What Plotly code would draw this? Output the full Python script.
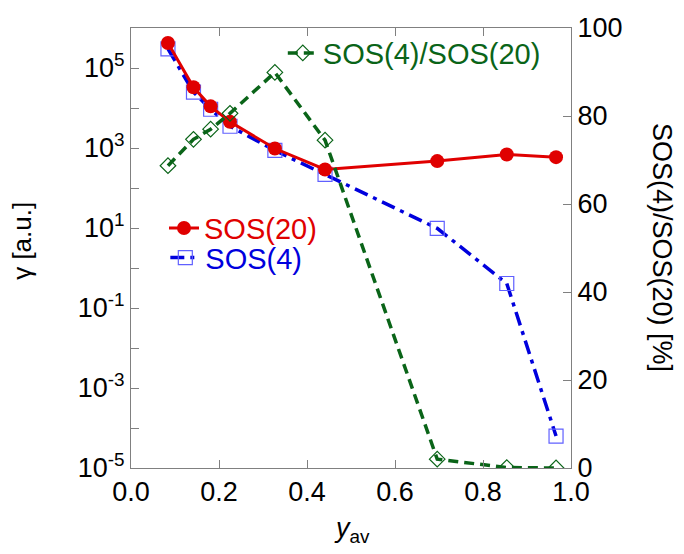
import plotly.graph_objects as go

y_av = [0.084, 0.142, 0.181, 0.225, 0.327, 0.441, 0.696, 0.854, 0.966]
sos20 = [4.2e5, 3.3e4, 1.1e4, 4.5e3, 970, 290, 470, 690, 590]
sos4 = [3.0e5, 2.5e4, 9.3e3, 3.5e3, 870, 220, 9.8, 0.41, 6.3e-5]
ratio = [68.7, 74.7, 77.0, 80.6, 89.9, 74.5, 2.0, 0.1, 0.0]

left_tickvals = [1e-5, 1e-4, 1e-3, 1e-2, 1e-1, 1, 10, 100, 1e3, 1e4, 1e5]
left_ticktext = ["10<sup>-5</sup>", "", "10<sup>-3</sup>", "", "10<sup>-1</sup>", "",
                 "10<sup>1</sup>", "", "10<sup>3</sup>", "", "10<sup>5</sup>"]
right_tickvals = [0, 20, 40, 60, 80, 100]
x_tickvals = [0.0, 0.2, 0.4, 0.6, 0.8, 1.0]
x_ticktext = ["0.0", "0.2", "0.4", "0.6", "0.8", "1.0"]

RED = "#e00000"
BLUE = "#0000dd"
SQ = "#6060ff"
GREEN = "#0a6418"
AX = "#808080"
FONT = "Liberation Sans, Arial, sans-serif"
FS = 27
LFS = 29

fig = go.Figure()
fig.add_trace(go.Scatter(
    x=y_av, y=ratio, name="SOS(4)/SOS(20)", yaxis="y2", legend="legend3",
    mode="lines+markers", showlegend=True,
    line=dict(color=GREEN, width=3.5, dash="10px,6px"),
    marker=dict(symbol="diamond-open", size=12, color=GREEN, line=dict(width=1.2, color=GREEN)),
))
fig.add_trace(go.Scatter(
    x=y_av, y=sos4, name="SOS(4)", legend="legend2",
    mode="lines+markers", showlegend=True,
    line=dict(color=BLUE, width=3.5, dash="14px,6px,4px,6px"),
    marker=dict(symbol="square-open", size=14, color=SQ, line=dict(width=1.2, color=SQ)),
))
fig.add_trace(go.Scatter(
    x=y_av, y=sos20, name="SOS(20)", legend="legend4",
    mode="lines+markers", showlegend=True,
    line=dict(color=RED, width=3),
    marker=dict(symbol="circle", size=14, color=RED),
))

axis_common = dict(showline=True, linecolor=AX, linewidth=1, ticks="inside",
                   tickcolor=AX, ticklen=8, showgrid=False, zeroline=False,
                   tickfont=dict(family=FONT, size=FS, color="black"))

fig.update_layout(
    width=684, height=554,
    margin=dict(l=131, r=113, t=28, b=86),
    paper_bgcolor="white", plot_bgcolor="white",
    showlegend=True,
    font=dict(family=FONT, size=FS, color="black"),
    xaxis=dict(range=[0, 1], tickvals=x_tickvals, ticktext=x_ticktext, mirror="ticks", **axis_common),
    yaxis=dict(type="log", range=[-5, 6], tickvals=left_tickvals, ticktext=left_ticktext, **axis_common),
    yaxis2=dict(range=[0, 100], tickvals=right_tickvals, overlaying="y", side="right", **axis_common),
    legend4=dict(x=0.075, y=0.545, xanchor="left", yanchor="middle", bgcolor="rgba(0,0,0,0)",
                 font=dict(family=FONT, size=LFS, color=RED), itemwidth=30, visible=True),
    legend2=dict(x=0.078, y=0.478, xanchor="left", yanchor="middle", bgcolor="rgba(0,0,0,0)",
                 font=dict(family=FONT, size=LFS, color=BLUE), itemwidth=30),
    legend3=dict(x=0.345, y=0.943, xanchor="left", yanchor="middle", bgcolor="rgba(0,0,0,0)",
                 font=dict(family=FONT, size=LFS, color=GREEN), itemwidth=30),
    annotations=[
        dict(text="γ [a.u.]", x=-0.248, y=0.516, xref="paper", yref="paper", showarrow=False,
             xanchor="center", yanchor="middle",
             textangle=-90, font=dict(family=FONT, size=26, color="black")),
        dict(text="SOS(4)/SOS(20) [%]", x=1.207, y=0.502, xref="paper", yref="paper", showarrow=False,
             xanchor="center", yanchor="middle",
             textangle=90, font=dict(family=FONT, size=27, color="black")),
        dict(text="<i>y</i><sub>av</sub>", x=0.502, y=-0.14, xref="paper", yref="paper", showarrow=False,
             xanchor="center", yanchor="middle",
             font=dict(family=FONT, size=27, color="black")),
    ],
)

fig.write_html("out.html")
